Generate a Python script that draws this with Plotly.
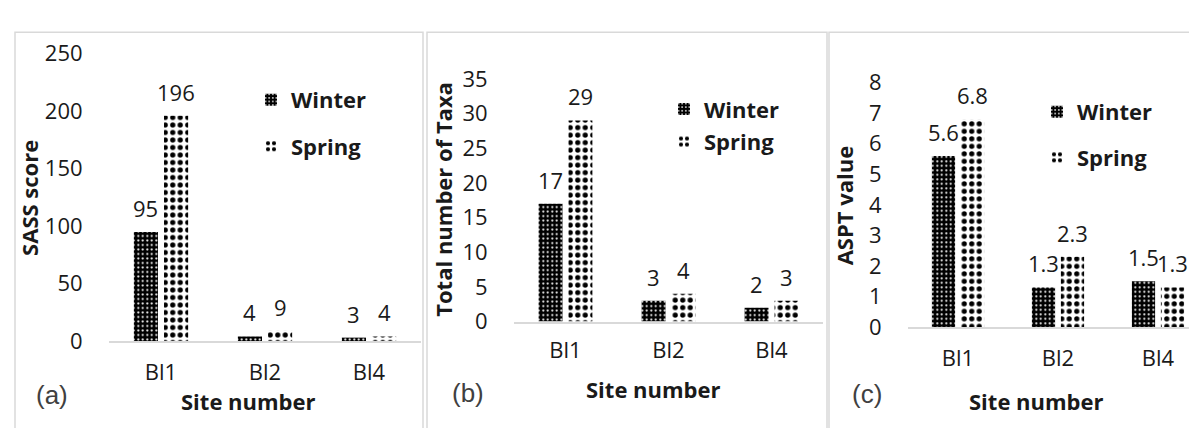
import plotly.graph_objects as go

# ---------------- data ----------------
sites = ["Bl1", "Bl2", "Bl4"]
seasons = ["Winter", "Spring"]

sass_winter = [95, 4, 3]
sass_spring = [196, 9, 4]

taxa_winter = [17, 3, 2]
taxa_spring = [29, 4, 3]

aspt_winter = [5.6, 1.3, 1.5]
aspt_spring = [6.8, 2.3, 1.3]

y_titles = ["SASS score", "Total number of Taxa", "ASPT value"]
x_title = "Site number"
panel_labels = ["(a)", "(b)", "(c)"]
y_ranges = [[0, 250], [0, 35], [0, 8]]
y_dticks = [50, 5, 1]

# ---------------- layout helpers ----------------
W, H = 1197, 428
FONT = "Open Sans"
BARGAP = 0.42
BARGROUPGAP = 0.2


def fx(p):
    return p / W


def fy(p):
    return 1 - p / H


winter_marker = dict(color="black",
                     pattern=dict(shape=".", fgcolor="white", bgcolor="black",
                                  size=4.5, solidity=0.16, fillmode="replace"),
                     line=dict(width=0))
spring_marker = dict(color="white",
                     pattern=dict(shape=".", fgcolor="black", bgcolor="white",
                                  size=7.5, solidity=0.38, fillmode="replace"),
                     line=dict(width=0))

panels = [
    dict(w=sass_winter, s=sass_spring,
         xdom=[fx(101), fx(413)], ydom=[fy(341), fy(32)], xrange=[-0.5, 2.5],
         ytitle=(21, 187), xtitle=(240, 405), plabel=(44, 399),
         legend=dict(x=fx(243), y=fy(59), gap=15), xticklen=11),
    dict(w=taxa_winter, s=taxa_spring,
         xdom=[fx(506), fx(815)], ydom=[fy(320), fy(59)], xrange=[-0.5, 2.5],
         ytitle=(435, 189), xtitle=(645, 393), plabel=(460, 397),
         legend=dict(x=fx(656), y=fy(69), gap=1), xticklen=8),
    dict(w=aspt_winter, s=aspt_spring,
         xdom=[fx(900), 1.0], ydom=[fy(326), fy(63)], xrange=[-0.5, 2.47],
         ytitle=(836, 195), xtitle=(1028, 405), plabel=(859, 398),
         legend=dict(x=fx(1029), y=fy(72), gap=14), xticklen=11),
]

fig = go.Figure()
annotations = []
shapes = []
layout_axes = {}

offset = (1 - BARGAP) / 4  # centre offset of each bar within its group

for i, p in enumerate(panels):
    n = i + 1
    xa = "x" if n == 1 else f"x{n}"
    ya = "y" if n == 1 else f"y{n}"
    lg = "legend" if n == 1 else f"legend{n}"
    for season, vals, mk, sgn in [("Winter", p["w"], winter_marker, -1),
                                  ("Spring", p["s"], spring_marker, 1)]:
        fig.add_trace(go.Bar(x=sites, y=vals, name=season, marker=mk,
                             xaxis=xa, yaxis=ya, legend=lg,
                             legendgroup=f"{season}{n}"))
        for k, v in enumerate(vals):
            annotations.append(dict(x=k + sgn * offset, y=v, xref=xa, yref=ya,
                                    text=f"{v:g}", showarrow=False,
                                    yanchor="middle", yshift=24,
                                    font=dict(family=FONT, size=22, color="#1a1a1a")))
    xkey = "xaxis" if n == 1 else f"xaxis{n}"
    ykey = "yaxis" if n == 1 else f"yaxis{n}"
    layout_axes[xkey] = dict(domain=p["xdom"], anchor=ya, range=p["xrange"],
                             type="category",
                             showline=True, linecolor="#d9d9d9", linewidth=1.5,
                             showgrid=False, zeroline=False,
                             ticks="outside", ticklen=p["xticklen"], tickcolor="rgba(0,0,0,0)",
                             tickfont=dict(family=FONT, size=22, color="#1a1a1a"))
    layout_axes[ykey] = dict(domain=p["ydom"], anchor=xa, range=y_ranges[i],
                             dtick=y_dticks[i], tick0=0,
                             showline=False, showgrid=False, zeroline=False,
                             ticks="outside", ticklen=21, tickcolor="rgba(0,0,0,0)",
                             tickfont=dict(family=FONT, size=22, color="#1a1a1a"))
    layout_axes[lg] = dict(x=p["legend"]["x"], y=p["legend"]["y"],
                           xanchor="left", yanchor="top",
                           bgcolor="rgba(0,0,0,0)",
                           tracegroupgap=p["legend"]["gap"],
                           font=dict(family=FONT, size=22, color="#1a1a1a", weight="bold"))
    # axis titles and panel labels
    tx, ty = p["ytitle"]
    annotations.append(dict(x=fx(tx), y=fy(ty), xref="paper", yref="paper",
                            text=y_titles[i], textangle=-90, showarrow=False,
                            xanchor="center", yanchor="middle",
                            font=dict(family=FONT, size=22, color="#1a1a1a", weight="bold")))
    tx, ty = p["xtitle"]
    annotations.append(dict(x=fx(tx), y=fy(ty), xref="paper", yref="paper",
                            text=x_title, showarrow=False,
                            xanchor="center", yanchor="middle",
                            font=dict(family=FONT, size=22, color="#1a1a1a", weight="bold")))
    tx, ty = p["plabel"]
    annotations.append(dict(x=fx(tx), y=fy(ty), xref="paper", yref="paper",
                            text=panel_labels[i], showarrow=False,
                            xanchor="center", yanchor="middle",
                            font=dict(family="Liberation Sans", size=26, color="#404040")))

# panel frames
for x0, x1 in [(7, 415), (419, 819), (821, 1200)]:
    shapes.append(dict(type="rect", xref="paper", yref="paper",
                       x0=fx(x0), x1=fx(x1), y0=-0.1, y1=fy(9),
                       line=dict(color="#d9d9d9", width=1.5), fillcolor="rgba(0,0,0,0)",
                       layer="below"))

fig.update_layout(width=W, height=H, margin=dict(l=0, r=0, t=0, b=0),
                  paper_bgcolor="white", plot_bgcolor="white",
                  barmode="group", bargap=BARGAP, bargroupgap=BARGROUPGAP,
                  annotations=annotations, shapes=shapes, **layout_axes)

fig.write_html("out.html")
